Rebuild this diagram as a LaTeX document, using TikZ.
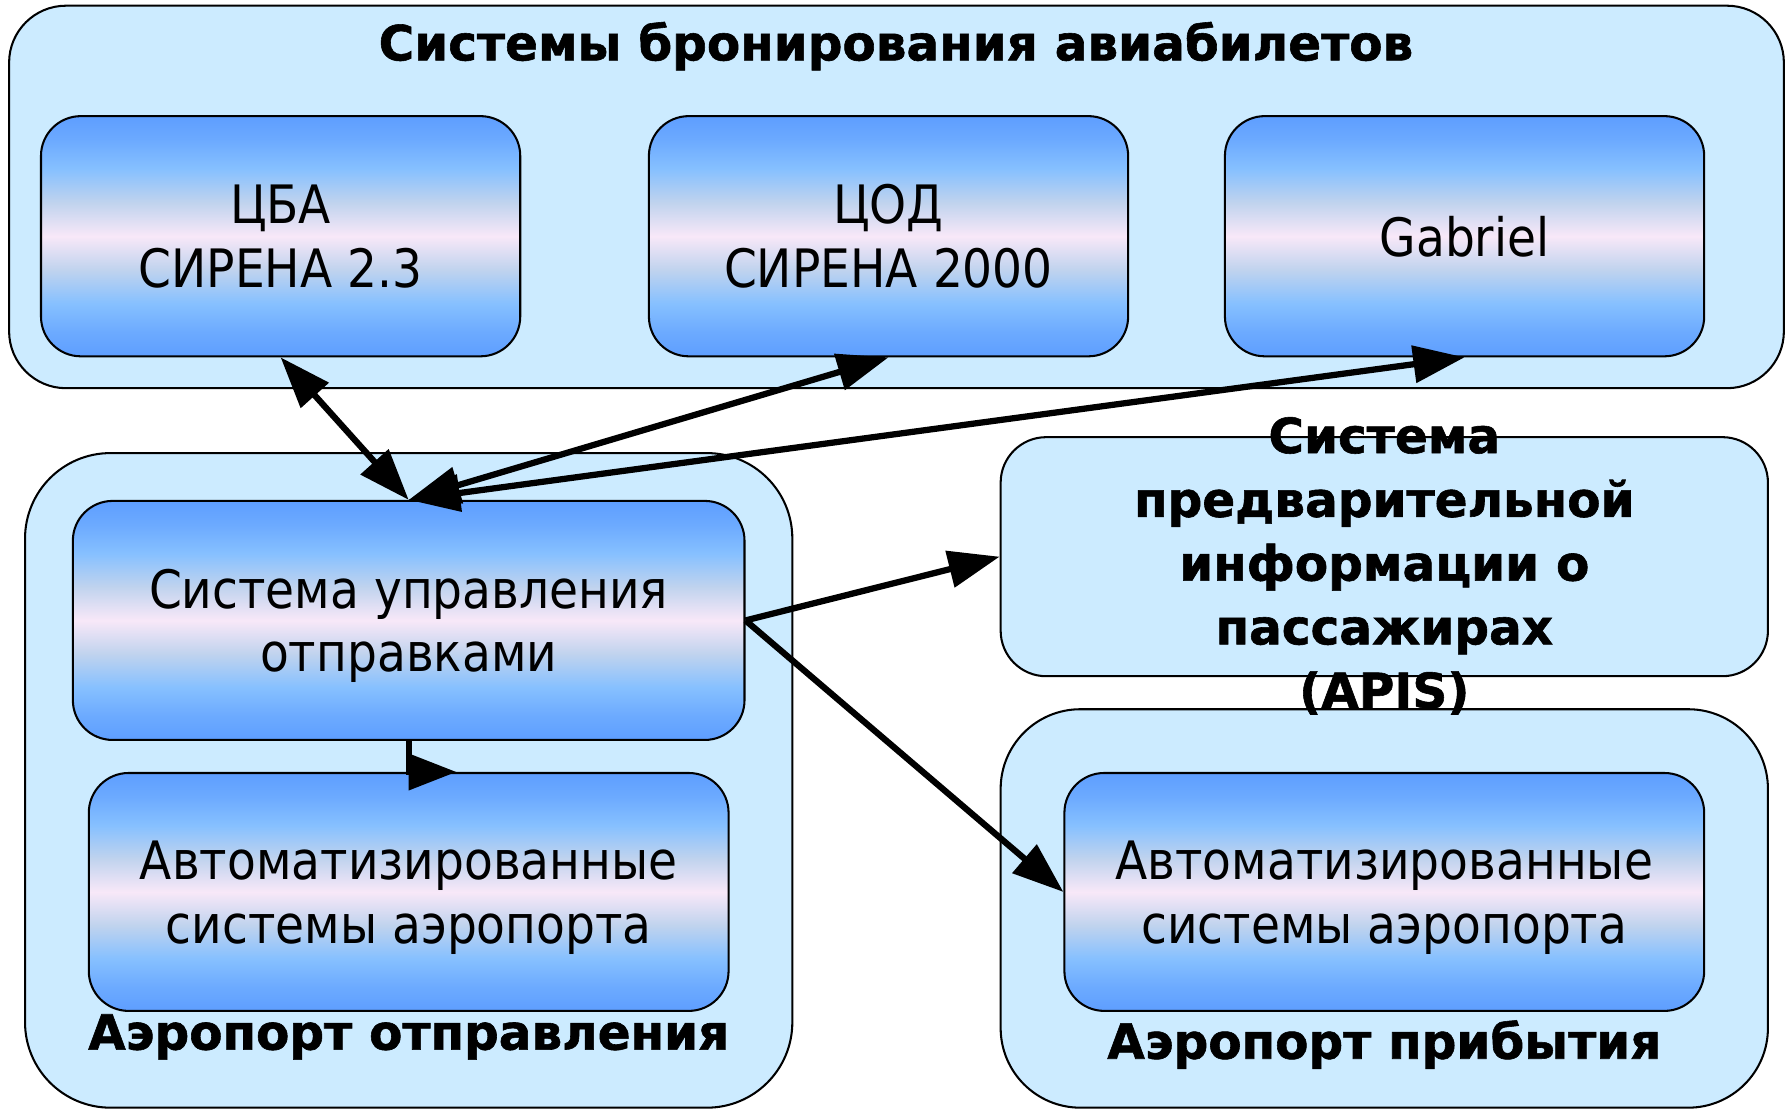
\documentclass[tikz,border=0pt]{standalone}
\usepackage{fontspec}
\setmainfont{DejaVu Sans}
\newfontfamily\regf{DejaVu Sans}[FakeStretch=0.89]
\newfontfamily\boldf{DejaVu Sans Bold}[FakeBold=1.2]
\usetikzlibrary{arrows.meta}
\definecolor{outerfill}{HTML}{CCEBFF}
\definecolor{gb1}{HTML}{5E9EFF}
\definecolor{gb1b}{HTML}{6CAAFF}
\definecolor{gb2}{HTML}{86C0FF}
\definecolor{gb3}{HTML}{C0D3EE}
\definecolor{gpink}{HTML}{F8E8F8}
\pgfdeclareverticalshading{boxshade}{100bp}{color(0bp)=(gb1); color(25bp)=(gb1); color(30bp)=(gb1b); color(36bp)=(gb2); color(43bp)=(gb3); color(50bp)=(gpink); color(57bp)=(gb3); color(64bp)=(gb2); color(70bp)=(gb1b); color(75bp)=(gb1); color(100bp)=(gb1)}
\begin{document}
\begin{tikzpicture}[x=1pt,y=-1pt,
  outerbox/.style={draw, line width=1.8pt, fill=outerfill, inner sep=0pt},
  innerbox/.style={draw, line width=1.8pt, shading=boxshade, rounded corners=35pt,
    inner sep=0pt, align=center, text depth=0pt, font=\regf\fontsize{46.5}{56}\selectfont},
  boldlabel/.style={font=\boldf\fontsize{42.6}{56}\selectfont, align=center, inner sep=0pt},
  tip/.tip={Triangle[length=45pt,width=32pt]},
  arr/.style={line width=5.5pt, -tip},
  darr/.style={line width=5.5pt, tip-tip}]
\useasboundingbox (0,0) rectangle (1568,975);

% outer containers
\node[outerbox, rounded corners=50pt, minimum width=1559pt, minimum height=336pt] (top) at (787.5,173) {};
\node[outerbox, rounded corners=75pt, minimum width=674pt, minimum height=575pt] (dep) at (359,685.5) {};
\node[outerbox, rounded corners=40pt, minimum width=674pt, minimum height=210pt] (apis) at (1216,489) {};
\node[outerbox, rounded corners=70pt, minimum width=674pt, minimum height=350pt] (arr) at (1216,798) {};

% inner systems
\node[innerbox, minimum width=421pt, minimum height=211pt] (cba) at (246.5,207.5) {ЦБА\\СИРЕНА 2.3};
\node[innerbox, minimum width=421pt, minimum height=211pt] (cod) at (780.5,207.5) {ЦОД\\СИРЕНА 2000};
\node[innerbox, minimum width=421pt, minimum height=211pt] (gab) at (1286.5,207.5) {Gabriel};
\node[innerbox, minimum width=590pt, minimum height=210pt] (ctl) at (359,545) {Система управления\\отправками};
\node[innerbox, minimum width=562pt, minimum height=209pt] (auto1) at (359,783.5) {Автоматизированные\\системы аэропорта};
\node[innerbox, minimum width=562pt, minimum height=209pt] (auto2) at (1216,783.5) {Автоматизированные\\системы аэропорта};

% connectors
\draw[darr] (cba.south) -- (ctl.north);
\draw[darr] (ctl.north) -- (cod.south);
\draw[darr] (ctl.north) -- (gab.south);
\draw[arr] (ctl.east) -- (apis.west);
\draw[arr] (ctl.east) -- (auto2.west);
\coordinate (stubend) at ([xshift=42pt]ctl.south |- auto1.north);
\draw[line width=5.5pt, -{Triangle[length=42pt,width=31pt]}] (ctl.south) |- (stubend);

% labels
\node[boldlabel, anchor=base] (title) at (787,53) {Системы бронирования авиабилетов};
\node[boldlabel, anchor=base] (deplabel) at (359,922) {Аэропорт отправления};
\node[boldlabel, anchor=base] (arrlabel) at (1216,930) {Аэропорт прибытия};
\node[boldlabel] (apislabel) at (1216,497) {Система\\предварительной\\информации о\\пассажирах\\(APIS)};
\end{tikzpicture}
\end{document}
